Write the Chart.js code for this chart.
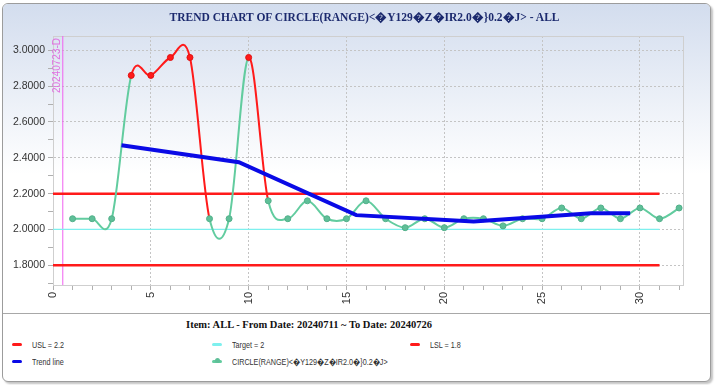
<!DOCTYPE html>
<html>
<head>
<meta charset="utf-8">
<script src="https://cdn.jsdelivr.net/npm/chart.js@4"></script>
<style>
  body { margin: 0; width: 715px; height: 385px; background: #fff; position: relative; overflow: hidden; font-family: "Liberation Sans", Arial, sans-serif; }
  #panel { position: absolute; left: 2px; top: 3px; width: 707px; height: 377px; border: 1px solid #9c9c9c; border-radius: 6px; box-shadow: 2px 2px 2px #c4c4c4; background: #fff; overflow: hidden; }
  #top { position: absolute; left: 0; top: 0; width: 100%; height: 309px; background: linear-gradient(#d3ddee, #ffffff 55%); border-bottom: 1px solid #a8a8a8; }
  #chartBox { position: absolute; left: 0; top: 0; width: 715px; height: 311px; }
  #title { position: absolute; left: 0; width: 729px; top: 9px; text-align: center; font: bold 11.5px "Liberation Serif", "Times New Roman", serif; color: #1c2a6e; white-space: nowrap; }
  #subtitle { position: absolute; left: 0; width: 618px; top: 319px; text-align: center; font: bold 10.5px "Liberation Serif", "Times New Roman", serif; color: #111; }
  .leg { position: absolute; font-size: 9px; color: #333; white-space: nowrap; line-height: 10px; }
  .sw { position: absolute; left: 0; top: 3px; width: 10px; height: 3px; border-radius: 2px; }
  .dot { position: absolute; left: 3px; top: 1px; width: 5px; height: 5px; border-radius: 50%; }
  .txt { position: absolute; left: 20px; top: 0; transform: scaleX(0.8); transform-origin: left center; }
</style>
</head>
<body>
<div id="panel"><div id="top"></div></div>
<div id="chartBox"><canvas id="myChart"></canvas></div>
<div id="title"></div>
<div id="subtitle">Item: ALL - From Date: 20240711 ~ To Date: 20240726</div>
<div id="legend"></div>
<script>
const titleText = 'TREND CHART OF CIRCLE(RANGE)<\uFFFDY129\uFFFDZ\uFFFDIR2.0\uFFFD}0.2\uFFFDJ> - ALL';
const seriesName = 'CIRCLE(RANGE)<\uFFFDY129\uFFFDZ\uFFFDIR2.0\uFFFD}0.2\uFFFDJ>';

const sampleX = [1, 2, 3, 4, 5, 6, 7, 8, 9, 10, 11, 12, 13, 14, 15, 16,
  17, 18, 19, 20, 21, 22, 23, 24, 25, 26, 27, 28, 29, 30, 31, 32];
const sampleY = [2.06, 2.06, 2.06, 2.86, 2.86, 2.96, 2.96, 2.06, 2.06, 2.96, 2.16, 2.06, 2.16, 2.06, 2.06, 2.16,
  2.06, 2.01, 2.06, 2.01, 2.06, 2.06, 2.02, 2.06, 2.06, 2.12, 2.06, 2.12, 2.06, 2.12, 2.06, 2.12];

const trendX = [3.5, 9.5, 15.5, 21.5, 27.5, 29.5];
const trendY = [2.47, 2.375, 2.08, 2.045, 2.09, 2.09];

const usl = 2.2;
const target = 2;
const lsl = 1.8;
const limitX = [0, 31];

const markerX = 0.5;
const markerLabel = '20240723-D';

const xMin = 0, xMax = 32.2;
const yMin = 1.69, yMax = 3.08;

const red = '#ff1a1a';
const green = '#62cc9f';

document.getElementById('title').textContent = titleText;

function pts(xs, ys) {
  return xs.map(function(x, i) { return { x: x, y: ys[i] }; });
}
function flat(v) {
  return limitX.map(function(x) { return { x: x, y: v }; });
}

const plotFrame = {
  id: 'plotFrame',
  beforeDatasetsDraw(chart) {
    const a = chart.chartArea;
    const ctx = chart.ctx;
    ctx.save();
    ctx.strokeStyle = '#cfcfcf';
    ctx.lineWidth = 1;
    ctx.strokeRect(a.left + 0.5, a.top + 0.5, a.right - a.left, a.bottom - a.top);
    ctx.restore();
  },
  afterDatasetsDraw(chart) {
    const ctx = chart.ctx;
    const x = chart.scales.x.getPixelForValue(markerX);
    ctx.save();
    ctx.translate(x - 6, chart.chartArea.top + 2);
    ctx.rotate(-Math.PI / 2);
    ctx.textAlign = 'right';
    ctx.textBaseline = 'middle';
    ctx.fillStyle = '#e070e0';
    ctx.font = '10px "Liberation Sans", Arial, sans-serif';
    ctx.fillText(markerLabel, 0, 0);
    ctx.restore();
  }
};

// uniform catmull-rom curve, like the original charting tool draws
const smoothCurve = {
  id: 'smoothCurve',
  beforeDatasetDraw(chart, args) {
    if (args.index !== 4) return;
    const line = args.meta.dataset;
    const p = args.meta.data;
    if (line.updateControlPoints) line.updateControlPoints(chart.chartArea, 'x');
    for (let i = 0; i < p.length; i++) {
      const prev = p[Math.max(i - 1, 0)];
      const next = p[Math.min(i + 1, p.length - 1)];
      const dx = (next.x - prev.x) / 6;
      const dy = (next.y - prev.y) / 6;
      p[i].cp1x = p[i].x - dx; p[i].cp1y = p[i].y - dy;
      p[i].cp2x = p[i].x + dx; p[i].cp2y = p[i].y + dy;
    }
    line._path = undefined;
  }
};

const datasets = [
  { label: 'USL = ' + usl, data: flat(usl), borderColor: red, borderWidth: 2.5, pointRadius: 0, order: 2 },
  { label: 'Target = ' + target, data: flat(target), borderColor: '#7ef0ee', borderWidth: 1.2, pointRadius: 0, order: 2 },
  { label: 'LSL = ' + lsl, data: flat(lsl), borderColor: red, borderWidth: 2.5, pointRadius: 0, order: 2 },
  { label: 'Trend line', data: pts(trendX, trendY), borderColor: '#0a0ae6', borderWidth: 4, pointRadius: 0, order: 0 },
  {
    label: seriesName,
    data: pts(sampleX, sampleY),
    borderColor: green,
    borderWidth: 2,
    tension: 0.4,
    pointRadius: 3,
    pointBorderWidth: 1,
    pointBackgroundColor: function(c) { return c.parsed && c.parsed.y > usl ? red : '#5fbf98'; },
    pointBorderColor: function(c) { return c.parsed && c.parsed.y > usl ? '#e01010' : '#52b08a'; },
    segment: {
      borderColor: function(c) { return c.p0.parsed.y > usl ? red : green; }
    },
    order: 1
  },
  { label: 'marker', data: [{ x: markerX, y: yMin }, { x: markerX, y: yMax }], borderColor: '#f060f0', borderWidth: 1, pointRadius: 0, order: 3 }
];

const ctx = document.getElementById('myChart').getContext('2d');
const chart = new Chart(ctx, {
  type: 'line',
  data: { datasets: datasets },
  options: {
    responsive: true,
    maintainAspectRatio: false,
    animation: false,
    layout: { padding: { left: 0, right: 32, top: 36, bottom: 0 } },
    plugins: {
      legend: { display: false },
      tooltip: { enabled: false }
    },
    scales: {
      x: {
        type: 'linear',
        min: xMin,
        max: xMax,
        afterFit: function(s) { s.height = 26; },
        border: { color: '#cfcfcf', dash: [2, 2] },
        grid: {
          color: function(c) { return c.tick && c.tick.value % 5 === 0 && c.tick.value > 0 ? '#c4c4c4' : 'rgba(0,0,0,0)'; },
          tickColor: '#b0b0b0',
          tickLength: 5
        },
        ticks: {
          stepSize: 1,
          includeBounds: false,
          autoSkip: false,
          minRotation: 90,
          maxRotation: 90,
          padding: 2,
          color: '#333',
          font: { family: '"Liberation Sans", Arial, sans-serif', size: 11 },
          callback: function(v) { return v % 5 === 0 ? String(v) : ''; }
        }
      },
      y: {
        min: yMin,
        max: yMax,
        afterFit: function(s) { s.width = 53; },
        border: { color: '#cfcfcf', dash: [2, 2] },
        grid: {
          color: function(c) { return c.tick && Math.round(c.tick.value * 10) % 2 === 0 ? '#c4c4c4' : 'rgba(0,0,0,0)'; },
          tickColor: '#b0b0b0',
          tickLength: 5
        },
        ticks: {
          stepSize: 0.1,
          includeBounds: false,
          autoSkip: false,
          padding: 3,
          color: '#333',
          font: { family: '"Liberation Sans", Arial, sans-serif', size: 10.5 },
          callback: function(v) { return Math.round(v * 10) % 2 === 0 ? v.toFixed(4) : ''; }
        }
      }
    }
  },
  plugins: [plotFrame, smoothCurve]
});

// html legend
const legendPos = [[12, 340], [212, 340], [410, 340], [12, 357], [212, 357]];
const legendEl = document.getElementById('legend');
legendEl.innerHTML = datasets.slice(0, 5).map(function(d, i) {
  const p = legendPos[i];
  const col = i === 4 ? green : d.borderColor;
  const dot = i === 4 ? '<span class="dot" style="background:#5fbf98"></span>' : '';
  return '<div class="leg" style="left:' + p[0] + 'px;top:' + p[1] + 'px">' +
    '<span class="sw" style="background:' + col + '"></span>' + dot +
    '<span class="txt">' + d.label + '</span></div>';
}).join('');
</script>
</body>
</html>
